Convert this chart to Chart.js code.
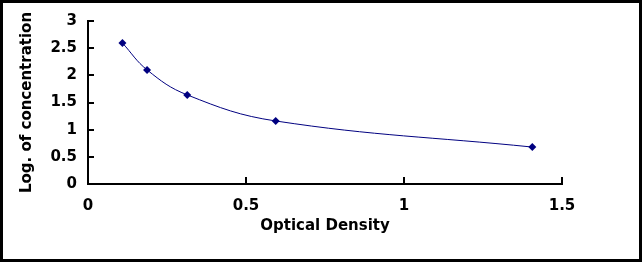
<!DOCTYPE html>
<html>
<head>
<meta charset="utf-8">
<script src="https://cdn.jsdelivr.net/npm/chart.js@4/dist/chart.umd.min.js"></script>
<style>
  html, body { margin: 0; padding: 0; background: #fff; }
  #wrap { width: 642px; height: 262px; position: relative; }
</style>
</head>
<body>
<div id="wrap"><canvas id="c" width="642" height="262"></canvas></div>
<script>
'use strict';

// ─── Data ────────────────────────────────────────────────────────────────────
const opticalDensity = [0.109, 0.187, 0.314, 0.594, 1.406];
const logConc        = [2.595, 2.100, 1.640, 1.160, 0.680];

const xTickValues = [0, 0.5, 1, 1.5];
const xTickLabels = ['0', '0.5', '1', '1.5'];
const yTickValues = [0, 0.5, 1, 1.5, 2, 2.5, 3];
const yTickLabels = ['0', '0.5', '1', '1.5', '2', '2.5', '3'];

const NAVY = '#000080';
const FONT = { family: '"DejaVu Sans", Verdana, sans-serif', size: 15, weight: 'bold' };

// ─── Outer frame + inward tick marks ─────────────────────────────────────────
const framePlugin = {
  id: 'frame',
  afterDraw(chart) {
    const ctx = chart.ctx;
    const { x, y } = chart.scales;
    const area = chart.chartArea;
    ctx.save();
    ctx.strokeStyle = '#000';
    ctx.lineWidth = 2;
    ctx.beginPath();
    x.ticks.forEach(t => {
      const px = Math.round(x.getPixelForValue(t.value));
      ctx.moveTo(px, area.bottom);
      ctx.lineTo(px, area.bottom - 7);
    });
    y.ticks.forEach(t => {
      const py = Math.round(y.getPixelForValue(t.value));
      ctx.moveTo(area.left, py);
      ctx.lineTo(area.left + 6, py);
    });
    ctx.stroke();
    ctx.lineWidth = 3;
    ctx.strokeRect(1.5, 1.5, chart.width - 3, chart.height - 3);
    ctx.restore();
  },
};

const fixTicks = (values) => (scale) => {
  scale.ticks = values.map(v => ({ value: v }));
};

new Chart(document.getElementById('c'), {
  type: 'line',
  data: {
    datasets: [{
      data: opticalDensity.map((x, i) => ({ x, y: logConc[i] })),
      borderColor: NAVY,
      borderWidth: 1,
      backgroundColor: NAVY,
      pointStyle: 'rectRot',
      pointRadius: 4,
      pointBorderWidth: 0,
      tension: 0.4,
      fill: false,
    }],
  },
  plugins: [framePlugin],
  options: {
    responsive: false,
    animation: false,
    events: [],
    layout: { padding: { left: 0, right: 80, top: 21, bottom: 27 } },
    plugins: { legend: { display: false }, tooltip: { enabled: false } },
    scales: {
      x: {
        type: 'linear',
        min: 0, max: 1.5,
        afterBuildTicks: fixTicks(xTickValues),
        afterFit: s => { s.height = 51; },
        border: { display: true, color: '#000', width: 2 },
        grid: { drawOnChartArea: false, drawTicks: false },
        ticks: {
          color: '#000', font: FONT, padding: 13, maxRotation: 0,
          callback: (v, i) => xTickLabels[i],
        },
        title: { display: true, text: 'Optical Density', color: '#000', font: FONT, padding: 0 },
      },
      y: {
        type: 'linear',
        min: 0, max: 3,
        afterBuildTicks: fixTicks(yTickValues),
        afterFit: s => { s.width = 88; },
        border: { display: true, color: '#000', width: 2 },
        grid: { drawOnChartArea: false, drawTicks: false },
        ticks: {
          color: '#000', font: FONT, padding: 11,
          callback: (v, i) => yTickLabels[i],
        },
        title: { display: true, text: 'Log. of concentration', color: '#000', font: FONT, padding: { top: 18, bottom: 0 } },
      },
    },
  },
});
</script>
</body>
</html>
